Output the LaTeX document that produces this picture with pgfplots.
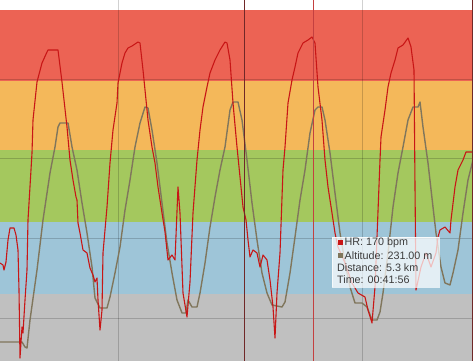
\documentclass[border=0pt]{standalone}
\usepackage{pgfplots}
\pgfplotsset{compat=1.18}
\usepackage{fontspec}
\setmainfont{Liberation Sans}
\definecolor{zred}{RGB}{236,99,84}
\definecolor{zorange}{RGB}{244,184,90}
\definecolor{zgreen}{RGB}{164,200,94}
\definecolor{zblue}{RGB}{158,197,216}
\definecolor{zgray}{RGB}{192,192,192}
\definecolor{hrline}{RGB}{200,22,22}
\definecolor{altline}{RGB}{128,118,92}
\definecolor{lapline}{RGB}{112,40,40}
\definecolor{curline}{RGB}{196,64,64}
\definecolor{ttext}{RGB}{60,60,60}
\begin{document}
\begin{tikzpicture}
\begin{axis}[
  width=473bp, height=361bp, scale only axis,
  xmin=0, xmax=473, ymin=0, ymax=361,
  hide axis, clip=true,
]
% zone bands
\addplot[draw=none, fill=zred] coordinates {(0,351) (473,351) (473,280) (0,280)} -- cycle;
\addplot[draw=none, fill=zorange] coordinates {(0,280) (473,280) (473,211) (0,211)} -- cycle;
\addplot[draw=none, fill=zgreen] coordinates {(0,211) (473,211) (473,139) (0,139)} -- cycle;
\addplot[draw=none, fill=zblue] coordinates {(0,139) (473,139) (473,67) (0,67)} -- cycle;
\addplot[draw=none, fill=zgray] coordinates {(0,67) (473,67) (473,0) (0,0)} -- cycle;
% grid
\addplot[black, opacity=0.18, line width=0.8pt] coordinates {(0,282) (473,282)};
\addplot[black, opacity=0.18, line width=0.8pt] coordinates {(0,203) (473,203)};
\addplot[black, opacity=0.18, line width=0.8pt] coordinates {(0,123) (473,123)};
\addplot[black, opacity=0.18, line width=0.8pt] coordinates {(0,43) (473,43)};
\addplot[black, opacity=0.18, line width=0.8pt] coordinates {(118,0) (118,361)};
\addplot[black, opacity=0.18, line width=0.8pt] coordinates {(362,0) (362,361)};
% altitude
\addplot[altline, line width=1.4pt, line join=round] coordinates {
(0,19) (22,19) (25,14) (27,13) (30,41) (37,91) (43,141) (50,188) (55,214) (58,234) (60,238) (68,238)
(72,214) (77,191) (82,158) (87,128) (92,94) (95,63) (100,53) (107,53) (110,64) (115,88) (120,114)
(125,151) (130,181) (135,214) (140,238) (145,254) (148,253) (152,231) (157,198) (162,158) (167,118)
(172,88) (177,61) (182,48) (186,48) (188,61) (192,54) (197,54) (200,68) (205,98) (210,134) (215,164)
(220,191) (225,214) (230,251) (233,259) (238,259) (242,241) (247,201) (252,158) (257,121) (262,88)
(267,68) (272,56) (282,54) (285,59) (290,88) (295,124) (300,161) (305,191) (310,228) (315,251)
(318,254) (322,254) (325,241) (330,208) (335,168) (340,128) (345,98) (350,74) (355,58) (362,58)
(367,54) (372,41) (377,41) (380,49) (383,68) (388,108) (393,154) (398,188) (403,214) (408,241)
(413,254) (418,254) (420,259) (423,234) (428,198) (433,154) (436,128) (441,94) (445,78) (450,76)
(453,88) (458,111) (463,148) (468,181) (473,201)
};
% heart rate
\addplot[hrline, line width=1.1pt, line join=round] coordinates {
(0,98) (3,96) (4,91) (6,99) (8,121) (10,133) (14,133) (16,126) (18,111) (19,71) (20,3) (22,34)
(23,28) (25,61) (27,91) (28,141) (32,208) (33,241) (37,279) (42,298) (47,309) (48,311) (58,311)
(62,279) (67,234) (70,201) (73,181) (76,164) (77,161) (78,138) (80,128) (83,111) (87,108) (90,93)
(93,86) (95,79) (97,83) (98,61) (100,31) (102,51) (103,108) (107,154) (110,198) (113,231) (117,258)
(118,278) (122,298) (125,308) (128,313) (132,315) (138,319) (140,318) (143,291) (147,251) (148,241)
(152,214) (155,198) (158,174) (162,148) (165,129) (168,101) (172,106) (175,101) (178,174) (180,148)
(183,68) (187,44) (190,79) (193,148) (197,201) (200,231) (203,254) (207,274) (210,288) (215,301)
(220,311) (225,319) (227,318) (230,301) (233,258) (237,214) (240,184) (243,154) (246,141) (248,121)
(250,104) (253,111) (257,108) (260,94) (263,106) (267,101) (270,81) (273,54) (275,23) (277,68)
(280,108) (283,191) (285,214) (288,258) (292,281) (295,294) (298,308) (303,318) (308,321) (312,324)
(315,318) (318,274) (322,241) (325,201) (328,174) (332,148) (335,128) (338,114) (345,98) (352,78)
(358,68) (365,64) (368,51) (372,38) (375,74) (377,124) (380,201) (381,224) (385,251) (388,274)
(391,288) (395,301) (398,313) (403,316) (408,323) (411,314) (414,291) (415,174) (416,71) (421,94)
(426,108) (431,94) (436,108) (438,124) (440,131) (445,134) (450,128) (451,141) (455,174) (458,191)
(463,201) (466,209) (473,209)
};
% vertical markers
\addplot[lapline, line width=1pt] coordinates {(244,0) (244,361)};
\addplot[curline, line width=1pt] coordinates {(313,0) (313,361)};
\addplot[lapline, line width=1pt] coordinates {(472.5,0) (472.5,361)};
% tooltip
\addplot[draw=white, fill=white, opacity=0.72, line width=0.5pt] coordinates {(332,124) (439,124) (439,74) (332,74)} -- cycle;
\fill[hrline] (axis cs:338,115.5) rectangle (axis cs:343,120.5);
\fill[altline] (axis cs:338,102.5) rectangle (axis cs:343,107.5);
\begin{scope}[every node/.style={anchor=west, inner sep=0pt, text=ttext, font=\fontsize{10.8}{12}\selectfont}]
\node at (axis cs:344.5,118) {HR: 170 bpm};
\node at (axis cs:344.5,105) {Altitude: 231.00 m};
\node at (axis cs:337,93) {Distance: 5.3 km};
\node at (axis cs:337,81) {Time: 00:41:56};
\end{scope}
\end{axis}
\end{tikzpicture}
\end{document}
